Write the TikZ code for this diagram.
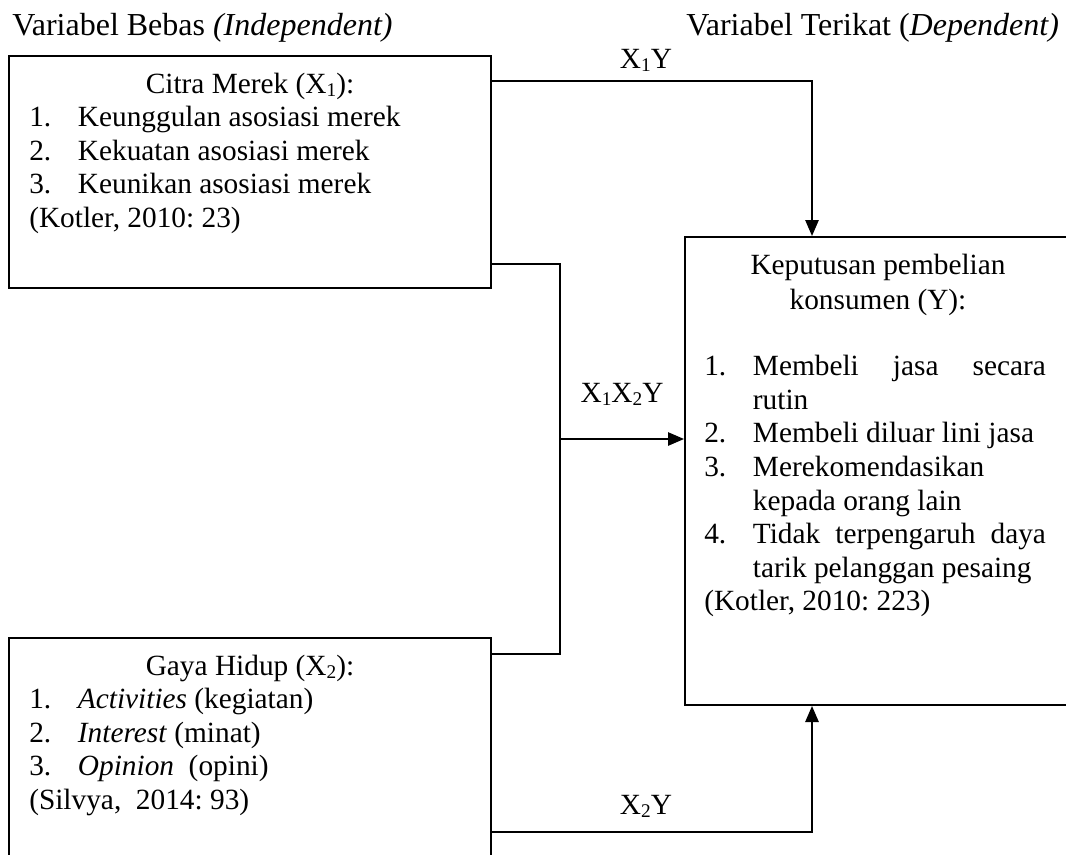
\documentclass[tikz,border=0pt]{standalone}
\usepackage{fontspec}
\setmainfont{Liberation Serif}
\usetikzlibrary{calc, positioning, arrows.meta}

\frenchspacing
\newcommand{\itm}[2]{\makebox[36.5pt][l]{#1.}#2}
\newcommand{\hang}{\hspace*{36.5pt}}
\newcommand{\lowidx}[1]{\raisebox{-0.25ex}{\fontsize{14.5}{14.5}\selectfont #1}}

\begin{document}
\begin{tikzpicture}[
    x=0.75pt, y=-0.75pt,
    box/.style={rectangle, draw=black, line width=1.5pt, inner sep=0pt, anchor=north west},
    txt/.style={inner sep=0pt, font=\fontsize{22}{25.2}\selectfont},
    hdr/.style={inner sep=0pt, font=\fontsize{24}{28}\selectfont, anchor=base west},
    line/.style={line width=1.3pt},
    arrow/.style={line width=1.3pt, -{Triangle[length=12pt, width=10pt]}}
]
    \useasboundingbox (0,0) rectangle (1066,854);

    % Headings
    \node[hdr] (indep) at (12,35) {Variabel Bebas \textit{(Independent)}};
    \node[hdr] (dep) at (686,35) {Variabel Terikat (\textit{Dependent)}};

    % Boxes
    \node[box, minimum width=361.5pt, minimum height=174pt] (x1) at (8,55) {};
    \node[box, minimum width=361.5pt, minimum height=174pt] (x2) at (8,637) {};
    \node[box, minimum width=291pt, minimum height=351pt] (y) at (684,236) {};

    % Box contents
    \node[txt, anchor=base] (x1title) at ($(x1.north)+(0,38)$) {Citra Merek (X\lowidx{1}):};
    \node[txt, anchor=north west, align=left] (x1list) at ($(x1.north west)+(21,51)$)
        {\itm{1}{Keunggulan asosiasi merek}\\ \itm{2}{Kekuatan asosiasi merek}\\
         \itm{3}{Keunikan asosiasi merek}\\ (Kotler, 2010: 23)};

    \node[txt, anchor=base] (x2title) at ($(x2.north)+(0,38)$) {Gaya Hidup (X\lowidx{2}):};
    \node[txt, anchor=north west, align=left] (x2list) at ($(x2.north west)+(21,51)$)
        {\itm{1}{\textit{Activities} (kegiatan)}\\ \itm{2}{\textit{Interest} (minat)}\\
         \itm{3}{\textit{Opinion}\ \ (opini)}\\ (Silvya,\ \ 2014: 93)};

    \node[txt, anchor=north, align=center, font=\fontsize{22}{26.5}\selectfont] (ytitle) at ($(y.north)+(-1,18)$)
        {Keputusan pembelian\\ konsumen (Y):};
    \node[txt, anchor=north west, align=left] (ylist) at ($(y.north west)+(20,119)$)
        {\itm{1}{\makebox[219.75pt][s]{Membeli jasa secara}}\\ \hang rutin\\
         \itm{2}{Membeli diluar lini jasa}\\ \itm{3}{Merekomendasikan}\\
         \hang kepada orang lain\\ \itm{4}{\makebox[219.75pt][s]{Tidak terpengaruh daya}}\\
         \hang tarik pelanggan pesaing\\ (Kotler, 2010: 223)};

    % Connections
    \coordinate (junc) at (560,439);
    \draw[arrow] ($(x1.north east)+(0,26)$) -| ($(y.north)+(-67,0)$);
    \draw[line] ($(x1.south east)+(0,-25)$) -| (junc) |- ($(x2.north east)+(0,17)$);
    \draw[arrow] (junc) -- (junc -| y.west);
    \draw[arrow] ($(x2.north east)+(0,195)$) -| ($(y.south)+(-67,0)$);

    % Path labels
    \node[txt, anchor=base] (lx1) at (646,68) {X\lowidx{1}Y};
    \node[txt, anchor=base] (lx12) at (622,402) {X\lowidx{1}X\lowidx{2}Y};
    \node[txt, anchor=base] (lx2) at (646,814) {X\lowidx{2}Y};
\end{tikzpicture}
\end{document}
